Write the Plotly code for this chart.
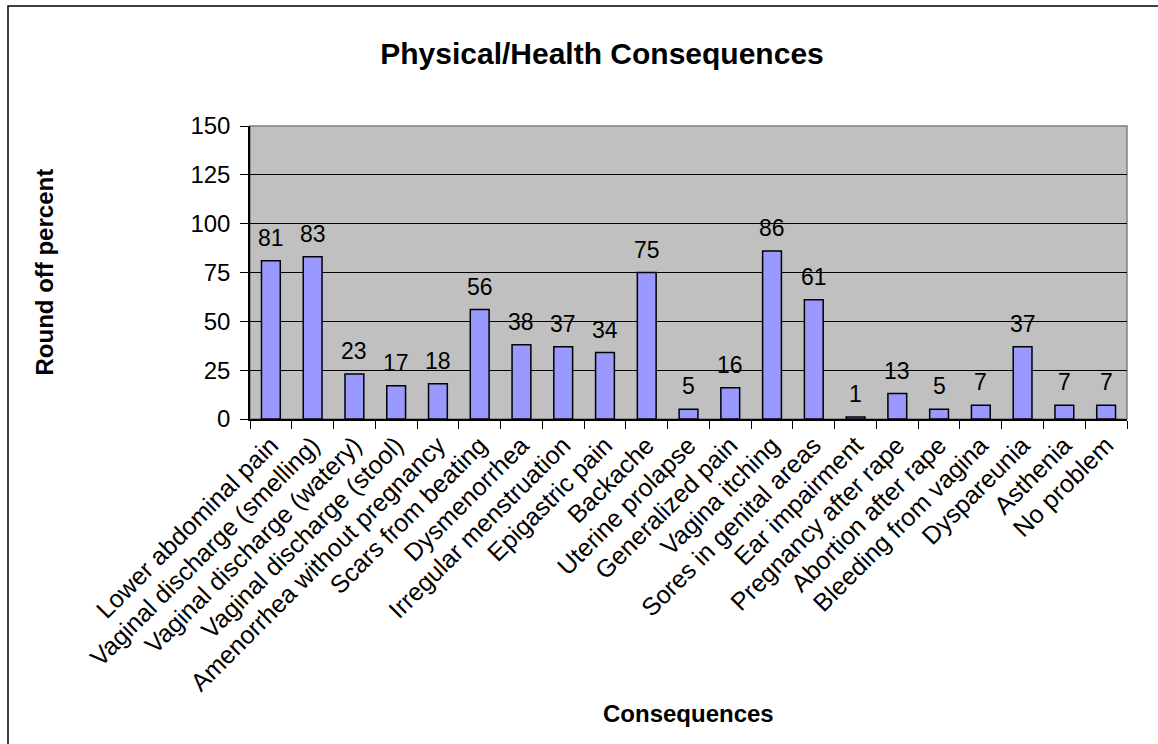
import plotly.graph_objects as go

# Reported physical / health consequences (rounded percent)
categories = [
    "Lower abdominal pain", "Vaginal discharge (smelling)", "Vaginal discharge (watery)",
    "Vaginal discharge (stool)", "Amenorrhea without pregnancy", "Scars from beating",
    "Dysmenorrhea", "Irregular menstruation", "Epigastric pain", "Backache",
    "Uterine prolapse", "Generalized pain", "Vagina itching", "Sores in genital areas",
    "Ear impairment", "Pregnancy after rape", "Abortion after rape", "Bleeding from vagina",
    "Dyspareunia", "Asthenia", "No problem",
]
values = [81, 83, 23, 17, 18, 56, 38, 37, 34, 75, 5, 16, 86, 61, 1, 13, 5, 7, 37, 7, 7]
y_ticks = [0, 25, 50, 75, 100, 125, 150]

FONT = "Liberation Sans, Arial, sans-serif"
W, H = 1158, 744
L, R, T, B = 250, 31, 126, 325
PW, PH = W - L - R, H - T - B


def px_x(x):
    return (x - L) / PW


def px_y(y):
    return (H - B - y) / PH


fig = go.Figure(
    go.Bar(
        x=categories,
        y=values,
        marker=dict(color="#9999FF", line=dict(color="#000000", width=1.5)),
        hoverinfo="x+y",
    )
)

# value labels above each bar
for c, v in zip(categories, values):
    fig.add_annotation(
        x=c, y=v, text=str(v), showarrow=False, yanchor="bottom", yshift=8,
        font=dict(family=FONT, size=23, color="#000000"),
    )

# axis titles
fig.add_annotation(
    x=px_x(44), y=0.5, xref="paper", yref="paper", text="<b>Round off percent</b>",
    textangle=-90, showarrow=False, xanchor="center", yanchor="middle",
    font=dict(family=FONT, size=24, color="#000000"),
)
fig.add_annotation(
    x=0.5, y=px_y(713), xref="paper", yref="paper", text="<b>Consequences</b>",
    showarrow=False, xanchor="center", yanchor="middle",
    font=dict(family=FONT, size=24, color="#000000"),
)

# chart frame and plot-area border
fig.add_shape(
    type="rect", xref="paper", yref="paper",
    x0=px_x(8), y0=px_y(800), x1=px_x(1200), y1=px_y(6),
    line=dict(color="#000000", width=1.5), fillcolor="rgba(0,0,0,0)", layer="above",
)
fig.add_shape(
    type="rect", xref="paper", yref="paper", x0=0, y0=0, x1=1, y1=1,
    line=dict(color="#808080", width=1.5), fillcolor="rgba(0,0,0,0)", layer="below",
)

fig.update_layout(
    width=W, height=H,
    margin=dict(l=L, r=R, t=T, b=B, autoexpand=False),
    paper_bgcolor="#FFFFFF",
    plot_bgcolor="#C0C0C0",
    bargap=0.55,
    showlegend=False,
    font=dict(family=FONT, color="#000000"),
    title=dict(
        text="<b>Physical/Health Consequences</b>",
        x=602 / W, xanchor="center", y=1 - 53 / H, yanchor="middle",
        font=dict(family=FONT, size=30, color="#000000"),
    ),
    xaxis=dict(
        type="category",
        tickangle=-45,
        tickfont=dict(family=FONT, size=25, color="#000000"),
        ticks="outside", ticklen=8, tickcolor="#000000", tickwidth=1,
        tickson="boundaries",
        showline=True, linecolor="#000000", linewidth=1.5,
        showgrid=False,
        automargin=False,
    ),
    yaxis=dict(
        range=[0, 150],
        tickvals=y_ticks,
        tickfont=dict(family=FONT, size=24, color="#000000"),
        ticks="outside", ticklen=8, tickcolor="#000000", tickwidth=1,
        ticklabelstandoff=5,
        showline=True, linecolor="#000000", linewidth=1.5,
        showgrid=True, gridcolor="#000000", gridwidth=1,
        zeroline=False,
        automargin=False,
    ),
)

fig.write_html("out.html")
